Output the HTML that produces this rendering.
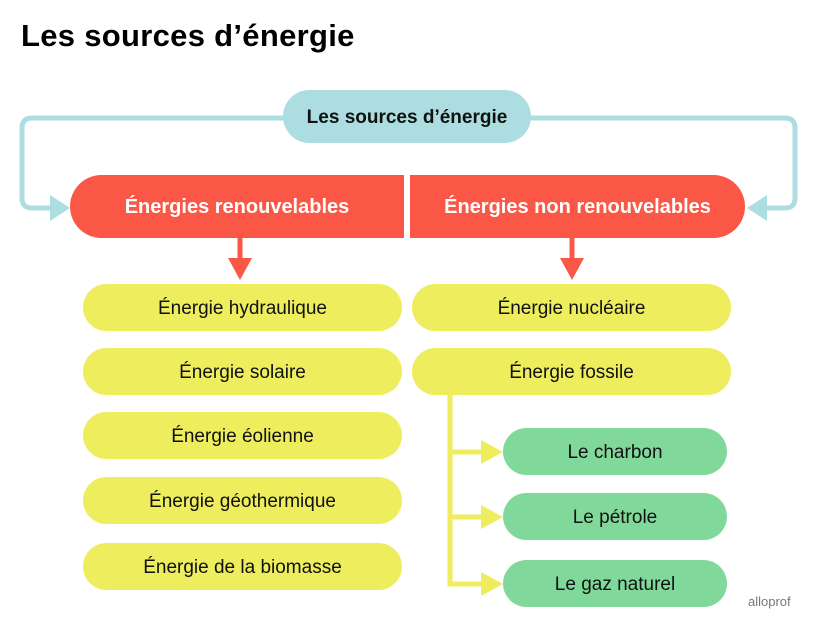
<!DOCTYPE html>
<html><head><meta charset="utf-8"><style>
body{margin:0;width:818px;height:627px;background:#fff;position:relative;overflow:hidden;font-family:"Liberation Sans",sans-serif}
.t{position:absolute;left:21px;top:18px;font-size:31px;font-weight:bold;color:#000;letter-spacing:0.3px}
.p{position:absolute;display:flex;align-items:center;justify-content:center;font-size:19px;color:#111;padding-top:2px;box-sizing:border-box}
.y{background:#eeed5e;border-radius:24px;height:47px}
.g{background:#80d99a;border-radius:24px;height:47px;width:224px;left:503px}
.r{background:#fa5746;color:#fff;font-weight:bold;font-size:20px;height:63px;top:175px}
</style></head><body>
<div class="t">Les sources d’énergie</div>
<svg width="818" height="627" style="position:absolute;left:0;top:0">
<g fill="none" stroke="#acdde0" stroke-width="5">
<path d="M290 118 H32 Q22 118 22 128 V198 Q22 208 32 208 H52"/>
<path d="M528 118 H785 Q795 118 795 128 V198 Q795 208 785 208 H765"/>
</g>
<polygon points="50,195 70,208 50,221" fill="#acdde0"/>
<polygon points="767,195 747,208 767,221" fill="#acdde0"/>
<g stroke="#fa5746" stroke-width="5"><line x1="240" y1="238" x2="240" y2="262"/><line x1="572" y1="238" x2="572" y2="262"/></g>
<polygon points="228,258 252,258 240,280" fill="#fa5746"/>
<polygon points="560,258 584,258 572,280" fill="#fa5746"/>
<g fill="none" stroke="#eeed5e" stroke-width="5"><path d="M450 395 V584 H486"/><line x1="450" y1="452" x2="486" y2="452"/><line x1="450" y1="517" x2="486" y2="517"/></g>
<g fill="#eeed5e"><polygon points="481,440 503,452 481,464"/><polygon points="481,505 503,517 481,529"/><polygon points="481,572 503,584 481,596"/></g>
</svg>
<div class="p" style="left:283px;top:90px;width:248px;height:53px;background:#acdde0;border-radius:27px;font-weight:bold;font-size:19px">Les sources d’énergie</div>
<div class="p r" style="left:70px;width:334px;border-radius:32px 0 0 32px">Énergies renouvelables</div>
<div class="p r" style="left:410px;width:335px;border-radius:0 32px 32px 0">Énergies non renouvelables</div>
<div class="p y" style="left:83px;top:284px;width:319px">Énergie hydraulique</div>
<div class="p y" style="left:83px;top:348px;width:319px">Énergie solaire</div>
<div class="p y" style="left:83px;top:412px;width:319px">Énergie éolienne</div>
<div class="p y" style="left:83px;top:477px;width:319px">Énergie géothermique</div>
<div class="p y" style="left:83px;top:543px;width:319px">Énergie de la biomasse</div>
<div class="p y" style="left:412px;top:284px;width:319px">Énergie nucléaire</div>
<div class="p y" style="left:412px;top:348px;width:319px">Énergie fossile</div>
<div class="p g" style="top:428px">Le charbon</div>
<div class="p g" style="top:493px">Le pétrole</div>
<div class="p g" style="top:560px">Le gaz naturel</div>
<div style="position:absolute;left:748px;top:594px;font-size:13px;color:#777">alloprof</div>
</body></html>
